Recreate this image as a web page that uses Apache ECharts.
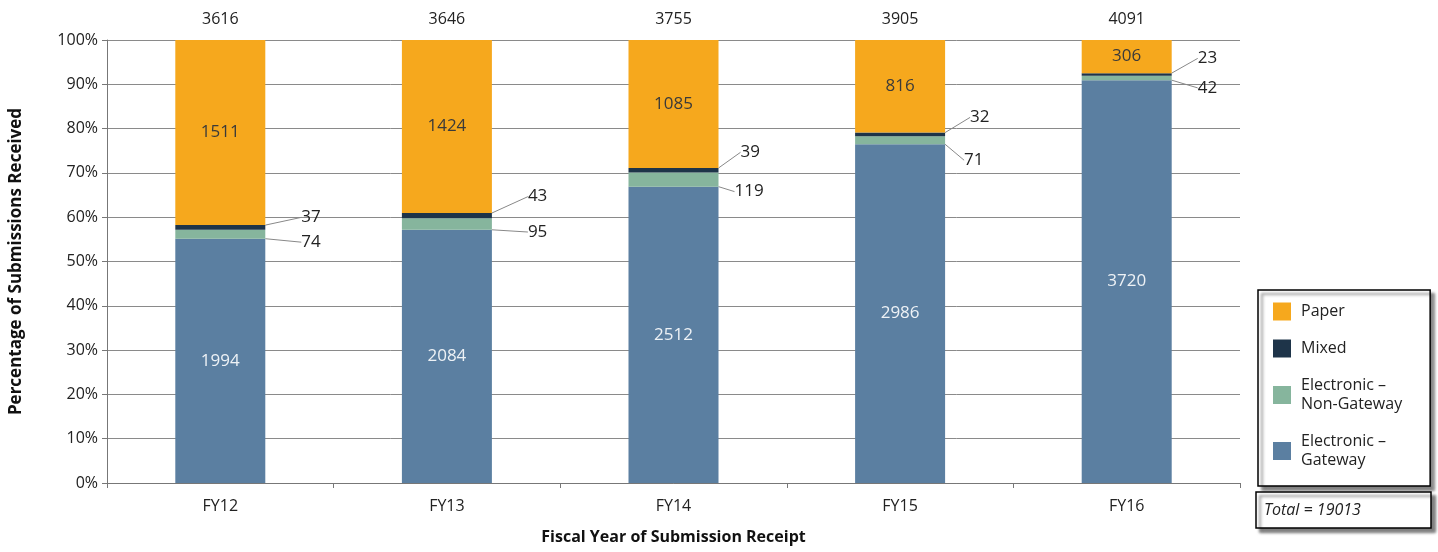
<!DOCTYPE html>
<html>
<head>
<meta charset="utf-8">
<script src="https://cdn.jsdelivr.net/npm/echarts@6/dist/echarts.min.js"></script>
<style>
  html, body { margin: 0; padding: 0; background: #fff; }
  #main { width: 1438px; height: 552px; }
</style>
</head>
<body>
<div id="main"></div>
<script>
// 财年与各类提交数量
var years = ['FY12', 'FY13', 'FY14', 'FY15', 'FY16'];
var gateway = [1994, 2084, 2512, 2986, 3720];
var nonGateway = [74, 95, 119, 71, 42];
var mixed = [37, 43, 39, 32, 23];
var paper = [1511, 1424, 1085, 816, 306];

// 每年合计 = 四类相加
var totals = years.map(function (y, i) {
  return gateway[i] + nonGateway[i] + mixed[i] + paper[i];
});
var grandTotal = totals.reduce(function (a, b) { return a + b; }, 0);

// 百分比
function pct(arr) {
  return arr.map(function (v, i) { return v / totals[i] * 100; });
}

// 小数值标签的外移位置 [距柱右边, 相对段中心的上下偏移]
var mixedOff = [[36, -10], [36, -19], [22, -18], [25, -17], [26, -16]];
var ngOff = [[36, 8], [36, 8], [16, 12], [19, 20], [26, 10]];

var font = 'Open Sans';
var colors = {
  gateway: '#5b7fa1',
  ng: '#86b59d',
  mixed: '#1e3449',
  paper: '#f6a81d'
};

function calloutLayout(offs) {
  return function (p) {
    var o = offs[p.dataIndex];
    return {
      x: p.rect.x + p.rect.width + o[0],
      y: p.rect.y + p.rect.height / 2 + o[1],
      align: 'left',
      verticalAlign: 'middle'
    };
  };
}

var myChart = echarts.init(document.getElementById('main'));
var option = {
  animation: false,
  textStyle: { fontFamily: font },
  grid: { left: 105, right: 198, top: 40, bottom: 69 },
  legend: {
    orient: 'vertical',
    left: 1258,
    top: 290,
    padding: [12, 28, 16, 15],
    itemWidth: 18,
    itemHeight: 18,
    itemGap: 18,
    icon: 'rect',
    borderColor: '#000',
    borderWidth: 1.5,
    backgroundColor: '#fff',
    shadowColor: 'rgba(0,0,0,0.5)',
    shadowBlur: 3,
    shadowOffsetX: 4,
    shadowOffsetY: 4,
    textStyle: { fontFamily: font, fontSize: 16, color: '#222', lineHeight: 19, padding: [0, 0, 0, 5] },
    data: ['Paper', 'Mixed', 'Electronic \u2013\nNon-Gateway', 'Electronic \u2013\nGateway']
  },
  title: {
    text: 'Total = ' + grandTotal,
    left: 1256,
    top: 492,
    padding: [10, 70, 10, 8],
    borderColor: '#000',
    borderWidth: 1.5,
    backgroundColor: '#fff',
    shadowColor: 'rgba(0,0,0,0.5)',
    shadowBlur: 3,
    shadowOffsetX: 4,
    shadowOffsetY: 4,
    textStyle: { fontFamily: font, fontSize: 16, fontStyle: 'italic', fontWeight: 'normal', color: '#222' }
  },
  xAxis: [
    {
      type: 'category',
      data: years,
      name: 'Fiscal Year of Submission Receipt',
      nameLocation: 'middle',
      nameGap: 46,
      nameTextStyle: { fontFamily: font, fontSize: 16, fontWeight: 'bold', color: '#111' },
      axisLine: { lineStyle: { color: '#777', width: 1 } },
      axisTick: { show: true, length: 5, lineStyle: { color: '#777' } },
      axisLabel: { margin: 15, fontSize: 16, color: '#222' }
    },
    {
      type: 'category',
      position: 'top',
      data: totals.map(String),
      axisLine: { show: false },
      axisTick: { show: false },
      axisLabel: { margin: 13, fontSize: 16, color: '#222' }
    }
  ],
  yAxis: {
    type: 'value',
    min: 0,
    max: 100,
    interval: 10,
    name: 'Percentage of Submissions Received',
    nameLocation: 'middle',
    nameGap: 82,
    nameTextStyle: { fontFamily: font, fontSize: 17, fontWeight: 'bold', color: '#111' },
    axisLine: { show: true, lineStyle: { color: '#777' } },
    axisTick: { show: true, length: 5, lineStyle: { color: '#777' } },
    axisLabel: { formatter: '{value}%', fontSize: 16, color: '#222', margin: 9 },
    splitLine: { lineStyle: { color: '#8a8a8a', width: 1 } }
  },
  series: [
    {
      name: 'Electronic \u2013\nGateway',
      type: 'bar',
      stack: 'all',
      barWidth: 90,
      itemStyle: { color: colors.gateway },
      label: {
        show: true,
        position: 'inside',
        fontSize: 17,
        color: '#eef2f6',
        formatter: function (p) { return gateway[p.dataIndex]; }
      },
      data: pct(gateway)
    },
    {
      name: 'Electronic \u2013\nNon-Gateway',
      type: 'bar',
      stack: 'all',
      itemStyle: { color: colors.ng },
      label: {
        show: true,
        position: 'right',
        fontSize: 17,
        color: '#222',
        formatter: function (p) { return nonGateway[p.dataIndex]; }
      },
      labelLine: { show: true, lineStyle: { color: '#888', width: 1 } },
      labelLayout: calloutLayout(ngOff),
      data: pct(nonGateway)
    },
    {
      name: 'Mixed',
      type: 'bar',
      stack: 'all',
      itemStyle: { color: colors.mixed },
      label: {
        show: true,
        position: 'right',
        fontSize: 17,
        color: '#222',
        formatter: function (p) { return mixed[p.dataIndex]; }
      },
      labelLine: { show: true, lineStyle: { color: '#888', width: 1 } },
      labelLayout: calloutLayout(mixedOff),
      data: pct(mixed)
    },
    {
      name: 'Paper',
      type: 'bar',
      stack: 'all',
      itemStyle: { color: colors.paper },
      label: {
        show: true,
        position: 'inside',
        fontSize: 17,
        color: '#3a3a3a',
        formatter: function (p) { return paper[p.dataIndex]; }
      },
      data: pct(paper)
    }
  ]
};
myChart.setOption(option);
</script>
</body>
</html>
